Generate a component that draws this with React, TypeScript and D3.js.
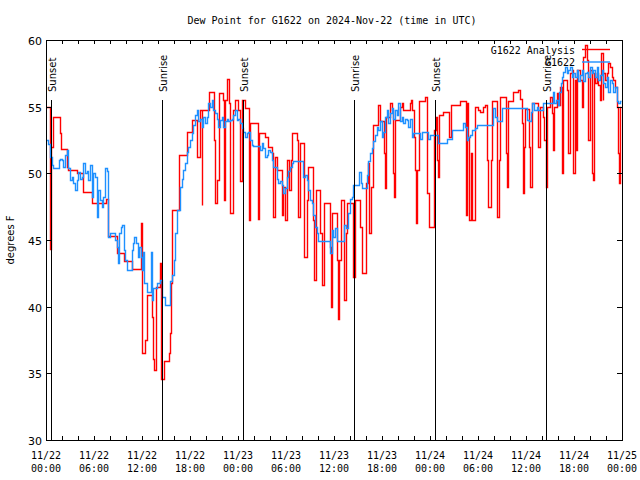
import React from "react";
import * as d3 from "d3";

const TITLE = "Dew Point for G1622 on 2024-Nov-22 (time in UTC)";
const Y_LABEL = "degrees F";
const yTicks = [30, 35, 40, 45, 50, 55, 60];
const seriesNames = ["G1622 Analysis", "G1622"];
const seriesColors = ["#ff0000", "#1e90ff"];

// hours since 2024-11-22 00:00 UTC
const sunEvents: [number, string][] = [
  [0.6, "Sunset"],
  [14.5, "Sunrise"],
  [24.6, "Sunset"],
  [38.5, "Sunrise"],
  [48.6, "Sunset"],
  [62.5, "Sunrise"],
];

// [hour, dew point F]
const analysisSeries: [number, number][] = [
  [0, 55.0], [0.5, 44.3], [0.6, 52.0], [0.85, 54.2], [1.75, 53.05], [1.85, 51.8], [2.6, 50.5], [2.8, 50.25],
  [3.85, 50.0], [4.6, 48.6], [5.7, 47.75], [7.5, 48.1], [7.8, 45.3], [8.9, 44.0], [9.75, 43.4], [10.8, 42.8],
  [11.85, 46.25], [12.05, 36.5], [12.4, 37.5], [12.65, 40.9], [13.25, 39.25], [13.4, 36.1], [13.55, 35.25],
  [13.75, 41.5], [14.25, 43.25], [14.35, 34.6], [14.75, 35.9], [15.4, 36.5], [15.5, 38.0], [15.6, 41.75],
  [15.8, 47.25], [16.65, 51.4], [17.6, 53.1], [18.2, 54.0], [18.9, 51.25], [19.25, 54.75], [19.45, 47.6],
  [19.55, 54.75], [20.4, 56.1], [21.0, 52.5], [21.1, 47.75], [21.35, 49.5], [21.65, 56.0], [22.1, 55.5],
  [22.25, 48.0], [22.4, 55.5], [22.6, 57.1], [22.85, 55.25], [23.0, 47.0], [23.35, 54.75], [23.6, 55.5],
  [24.05, 54.75], [24.25, 49.4], [24.45, 55.5], [24.9, 54.9], [25.35, 46.5], [25.5, 53.75], [26.55, 46.6],
  [26.65, 53.0], [27.4, 52.75], [27.8, 52.0], [28.2, 51.5], [28.4, 46.75], [28.6, 51.25], [28.85, 50.25],
  [29.45, 46.9], [29.65, 49.0], [29.9, 46.5], [30.1, 51.0], [30.4, 48.75], [30.6, 51.0], [30.8, 53.0],
  [31.35, 52.5], [31.55, 46.75], [31.75, 52.25], [32.3, 43.75], [32.6, 48.0], [32.8, 50.5], [33.35, 46.5],
  [33.55, 42.0], [33.7, 48.75], [34.25, 45.5], [34.45, 41.6], [34.8, 47.75], [35.5, 44.5], [35.6, 40.0],
  [35.8, 47.0], [36.35, 43.5], [36.45, 39.1], [36.6, 43.5], [36.9, 48.0], [37.3, 40.5], [37.5, 45.5],
  [37.65, 47.75], [38.4, 42.2], [38.6, 48.0], [39.3, 46.0], [39.45, 42.5], [40.05, 49.25], [40.25, 50.75],
  [40.4, 45.5], [40.6, 49.0], [40.85, 53.6], [41.55, 55.1], [41.75, 53.9], [42.25, 51.5], [42.4, 48.9],
  [42.5, 54.25], [43.0, 55.25], [43.2, 54.75], [43.35, 50.0], [43.5, 48.25], [43.6, 54.0], [44.25, 55.0],
  [44.45, 55.25], [44.65, 54.75], [45.5, 55.25], [45.6, 55.5], [45.8, 54.75], [46.0, 52.75], [46.1, 50.25],
  [46.25, 46.25], [46.4, 50.25], [46.6, 55.4], [47.4, 55.75], [47.65, 48.5], [47.85, 46.0], [48.55, 53.25],
  [48.75, 54.25], [48.9, 51.0], [49.05, 49.75], [49.15, 54.4], [49.65, 54.6], [50.4, 52.75], [50.6, 55.1],
  [51.75, 55.4], [52.45, 46.9], [52.6, 55.25], [52.8, 52.75], [52.9, 46.5], [53.1, 51.5], [53.2, 46.5],
  [53.6, 55.0], [54.05, 54.75], [54.25, 54.6], [54.65, 55.0], [54.9, 55.1], [55.1, 51.0], [55.3, 47.5],
  [55.6, 51.0], [55.7, 55.4], [56.4, 46.75], [56.6, 51.0], [56.75, 55.75], [57.5, 51.5], [57.65, 49.0],
  [57.8, 55.4], [58.4, 56.1], [59.05, 56.25], [59.25, 55.6], [59.45, 53.75], [59.6, 48.5], [59.75, 52.0],
  [59.9, 54.85], [60.4, 52.0], [60.55, 49.0], [60.7, 55.25], [61.55, 52.0], [61.75, 55.0], [62.1, 54.25],
  [62.25, 52.5], [62.45, 49.0], [62.6, 55.0], [63.0, 55.75], [63.2, 54.5], [63.4, 51.75], [63.5, 55.0],
  [63.85, 56.0], [64.05, 55.1], [64.25, 56.5], [64.45, 50.0], [64.65, 57.0], [65.1, 56.25], [65.3, 51.5],
  [65.5, 57.5], [65.7, 57.75], [65.9, 50.0], [66.1, 57.0], [66.25, 51.75], [66.4, 57.75], [66.75, 57.0],
  [66.95, 55.0], [67.15, 58.75], [67.4, 59.6], [67.6, 58.5], [67.8, 52.5], [68.0, 57.75], [68.2, 50.0],
  [68.35, 49.5], [68.5, 57.5], [68.6, 56.75], [68.85, 57.5], [69.05, 56.6], [69.25, 55.5], [69.4, 59.0],
  [69.6, 55.5], [69.65, 57.5], [69.9, 57.0], [70.1, 57.5], [70.3, 58.25], [70.5, 58.0], [70.7, 57.25],
  [70.9, 57.0], [71.1, 56.5], [71.35, 55.0], [71.45, 51.5], [71.6, 49.25], [71.75, 55.0], [71.9, 55.0],
];

const obsSeries: [number, number][] = [
  [0, 52.5], [0.3, 52.2], [0.5, 51.25], [0.7, 50.6], [0.9, 50.4], [1.6, 51.0], [1.75, 51.1], [2.0, 51.0],
  [2.15, 50.5], [2.4, 51.4], [2.6, 51.75], [2.8, 50.4], [3.0, 49.5], [3.2, 49.7], [3.4, 49.25], [3.6, 48.75],
  [3.85, 49.5], [4.05, 50.1], [4.25, 49.6], [4.45, 49.75], [4.65, 50.75], [4.85, 50.0], [5.1, 50.2],
  [5.3, 49.5], [5.5, 50.6], [5.7, 48.25], [5.9, 50.0], [6.1, 49.75], [6.35, 46.75], [6.55, 48.75],
  [6.75, 48.0], [6.95, 47.5], [7.15, 48.25], [7.4, 50.4], [7.6, 50.2], [7.7, 46.0], [7.8, 45.25], [8.0, 45.5],
  [8.6, 45.0], [8.85, 44.5], [8.95, 43.25], [9.1, 45.5], [9.4, 46.0], [9.55, 46.1], [9.7, 44.25], [9.9, 43.5],
  [10.1, 42.75], [10.6, 42.75], [10.7, 44.25], [10.85, 44.75], [11.0, 45.25], [11.2, 44.75], [11.45, 43.75],
  [11.65, 44.5], [11.9, 43.75], [12.05, 42.75], [12.15, 44.1], [12.2, 41.75], [12.6, 41.1], [13.1, 44.1],
  [13.2, 40.5], [13.4, 41.4], [13.85, 41.75], [14.25, 42.0], [14.45, 40.75], [14.9, 40.1], [15.5, 41.9],
  [15.7, 42.4], [16.0, 43.5], [16.1, 45.5], [16.35, 47.25], [16.75, 49.0], [16.95, 49.6], [17.15, 50.25],
  [17.4, 50.75], [17.6, 51.6], [17.8, 52.0], [18.0, 52.5], [18.2, 53.0], [18.4, 53.6], [18.6, 54.4],
  [18.85, 54.75], [19.05, 53.9], [19.25, 54.1], [19.45, 53.5], [19.65, 54.25], [19.9, 53.75], [20.1, 54.25],
  [20.3, 55.25], [20.5, 55.0], [20.7, 55.5], [20.9, 54.75], [21.1, 54.5], [21.35, 54.1], [21.55, 53.5],
  [21.75, 54.0], [21.95, 54.25], [22.15, 53.5], [22.4, 53.9], [22.6, 54.1], [22.8, 53.9], [23.0, 54.0],
  [23.2, 54.1], [23.4, 54.4], [23.6, 54.75], [23.85, 54.0], [24.05, 54.1], [24.25, 53.75], [24.45, 53.4],
  [24.65, 53.1], [24.9, 52.75], [25.1, 53.0], [25.3, 53.1], [25.5, 52.5], [25.7, 52.1], [25.9, 52.05],
  [26.75, 51.75], [26.95, 52.25], [27.15, 51.9], [27.4, 51.25], [27.6, 51.4], [27.8, 51.75], [28.0, 51.6],
  [28.2, 51.0], [28.4, 50.5], [28.85, 49.6], [29.05, 49.25], [29.25, 49.4], [29.45, 49.1], [29.65, 48.5],
  [29.9, 48.9], [30.1, 49.75], [30.3, 50.2], [30.5, 50.5], [30.7, 50.75], [30.9, 50.9], [31.95, 50.9],
  [32.15, 49.75], [32.4, 49.9], [32.6, 49.5], [32.8, 48.75], [33.0, 48.0], [33.2, 47.75], [33.4, 46.9],
  [33.6, 46.0], [33.85, 45.5], [34.05, 44.9], [35.5, 44.0], [35.7, 45.75], [35.9, 45.25], [36.1, 45.9],
  [36.35, 44.9], [37.25, 46.1], [37.5, 45.9], [37.8, 47.0], [38.0, 48.1], [38.2, 48.25], [38.4, 49.1],
  [39.15, 50.1], [39.35, 49.25], [39.45, 48.9], [40.1, 49.9], [40.3, 50.9], [40.5, 51.5], [40.7, 51.9],
  [40.9, 52.4], [41.1, 52.9], [41.35, 53.5], [41.55, 53.25], [41.75, 53.9], [41.95, 52.75], [42.15, 53.1],
  [42.4, 54.25], [42.6, 54.75], [42.8, 53.75], [43.0, 54.5], [43.2, 54.9], [43.4, 54.1], [43.6, 54.75],
  [43.85, 54.4], [44.05, 55.25], [44.25, 53.9], [44.45, 54.25], [44.65, 53.75], [44.9, 54.1], [45.1, 54.0],
  [45.3, 53.5], [45.5, 54.1], [45.7, 52.75], [45.9, 53.0], [46.75, 52.6], [46.95, 53.1], [47.7, 52.6],
  [48.0, 52.9], [49.05, 52.25], [50.1, 52.6], [50.7, 53.25], [52.15, 53.75], [52.4, 53.5], [52.6, 52.5],
  [52.8, 52.75], [53.0, 52.9], [53.2, 53.25], [53.6, 53.4], [53.85, 53.6], [55.9, 54.9], [56.1, 54.25],
  [56.35, 53.9], [56.95, 54.9], [60.1, 54.9], [60.15, 54.0], [60.4, 53.9], [60.6, 54.6], [60.8, 55.25],
  [61.0, 54.75], [61.35, 55.0], [61.55, 54.75], [62.15, 55.25], [63.4, 56.1], [63.5, 55.25], [63.75, 55.5],
  [64.05, 55.1], [64.15, 56.1], [64.35, 56.75], [64.45, 57.25], [64.65, 57.6], [64.9, 58.0], [65.1, 57.5],
  [65.3, 57.75], [65.5, 58.0], [65.7, 57.25], [65.9, 57.5], [66.1, 57.25], [66.35, 57.75], [66.55, 56.9],
  [66.75, 57.4], [66.95, 57.75], [67.15, 56.9], [67.4, 57.5], [67.6, 57.6], [67.8, 57.25], [68.0, 58.0],
  [68.2, 57.5], [68.4, 57.75], [68.6, 57.25], [68.85, 58.0], [69.05, 57.0], [69.25, 57.4], [69.45, 57.75],
  [69.65, 56.75], [69.9, 56.5], [70.1, 57.25], [70.3, 56.1], [70.5, 57.0], [70.7, 56.75], [70.9, 56.1],
  [71.1, 56.5], [71.35, 55.4], [71.55, 55.25], [71.75, 55.4], [71.9, 55.4],
];

const T0 = Date.UTC(2024, 10, 22, 0, 0, 0);
const H = 3600 * 1000;
const toDate = (h: number) => new Date(T0 + h * H);

const W = 640;
const HGT = 480;
const M = { left: 46, right: 622, top: 40, bottom: 440 };

export default function App() {
  const x = d3.scaleUtc().domain([toDate(0), toDate(72)]).range([M.left, M.right]);
  const y = d3.scaleLinear().domain([30, 60]).range([M.bottom, M.top]);

  const line = d3
    .line<[number, number]>()
    .x((d) => Math.round(x(toDate(d[0]))) + 0.5)
    .y((d) => Math.round(y(d[1])) + 0.5)
    .curve(d3.curveStepAfter);

  const majorTicks = x.ticks(d3.utcHour.every(6)!);
  const minorTicks = x.ticks(d3.utcHour.every(2)!);
  const fmtDate = d3.utcFormat("%m/%d");
  const fmtTime = d3.utcFormat("%H:%M");

  const mono = "'DejaVu Sans Mono', monospace";
  const sans = "'DejaVu Sans', sans-serif";

  return (
    <svg width={W} height={HGT} style={{ display: "block", position: "absolute", left: 0, top: 0 }}>
      <rect x={0} y={0} width={W} height={HGT} fill="#fff" />
      <defs>
        <clipPath id="plot">
          <rect x={M.left} y={M.top} width={M.right - M.left} height={M.bottom - M.top} />
        </clipPath>
      </defs>
      <text x={332} y={24} textAnchor="middle" fontFamily={mono} fontSize={10} fill="#000">
        {TITLE}
      </text>

      <g clipPath="url(#plot)">
        <path d={line(analysisSeries) ?? ""} fill="none" stroke={seriesColors[0]} strokeWidth={1.4} />
        <path d={line(obsSeries) ?? ""} fill="none" stroke={seriesColors[1]} strokeWidth={1.4} />
      </g>

      {sunEvents.map(([h, label], i) => {
        const px = Math.round(x(toDate(h))) + 0.5;
        return (
          <g key={i}>
            <line x1={px} x2={px} y1={100} y2={M.bottom} stroke="#000" strokeWidth={1} />
            <text
              transform={`translate(${px + 4},92) rotate(-90)`}
              fontFamily={sans}
              fontSize={10}
              fill="#000"
            >
              {label}
            </text>
          </g>
        );
      })}

      {/* frame */}
      <rect
        x={M.left + 0.5}
        y={M.top + 0.5}
        width={M.right - M.left}
        height={M.bottom - M.top}
        fill="none"
        stroke="#000"
        strokeWidth={1}
      />

      {/* x ticks */}
      {minorTicks.map((t, i) => {
        const px = Math.round(x(t)) + 0.5;
        return (
          <g key={"mt" + i}>
            <line x1={px} x2={px} y1={M.bottom} y2={M.bottom - 4} stroke="#000" />
            <line x1={px} x2={px} y1={M.top} y2={M.top + 4} stroke="#000" />
          </g>
        );
      })}
      {majorTicks.map((t, i) => {
        const px = x(t);
        return (
          <g key={"xt" + i} fontFamily={mono} fontSize={10} fill="#000">
            <text x={px} y={459} textAnchor="middle">{fmtDate(t)}</text>
            <text x={px} y={472} textAnchor="middle">{fmtTime(t)}</text>
          </g>
        );
      })}

      {/* y ticks */}
      {yTicks.map((v) => {
        const py = Math.round(y(v)) + 0.5;
        return (
          <g key={"yt" + v}>
            <line x1={M.left} x2={M.left + 5} y1={py} y2={py} stroke="#000" />
            <line x1={M.right} x2={M.right - 5} y1={py} y2={py} stroke="#000" />
            <text x={42} y={py + 4} textAnchor="end" fontFamily={sans} fontSize={11} fill="#000">
              {v}
            </text>
          </g>
        );
      })}

      <text
        transform={`translate(14,240) rotate(-90)`}
        textAnchor="middle"
        fontFamily={sans}
        fontSize={10}
        fill="#000"
      >
        {Y_LABEL}
      </text>

      {/* legend */}
      {seriesNames.map((name, i) => (
        <g key={"lg" + i}>
          <text x={575} y={53.5 + i * 12.5} textAnchor="end" fontFamily={mono} fontSize={10} fill="#000">
            {name}
          </text>
          <line x1={582} x2={610} y1={49.5 + i * 12.5} y2={49.5 + i * 12.5} stroke={seriesColors[i]} strokeWidth={1.4} />
        </g>
      ))}
    </svg>
  );
}
